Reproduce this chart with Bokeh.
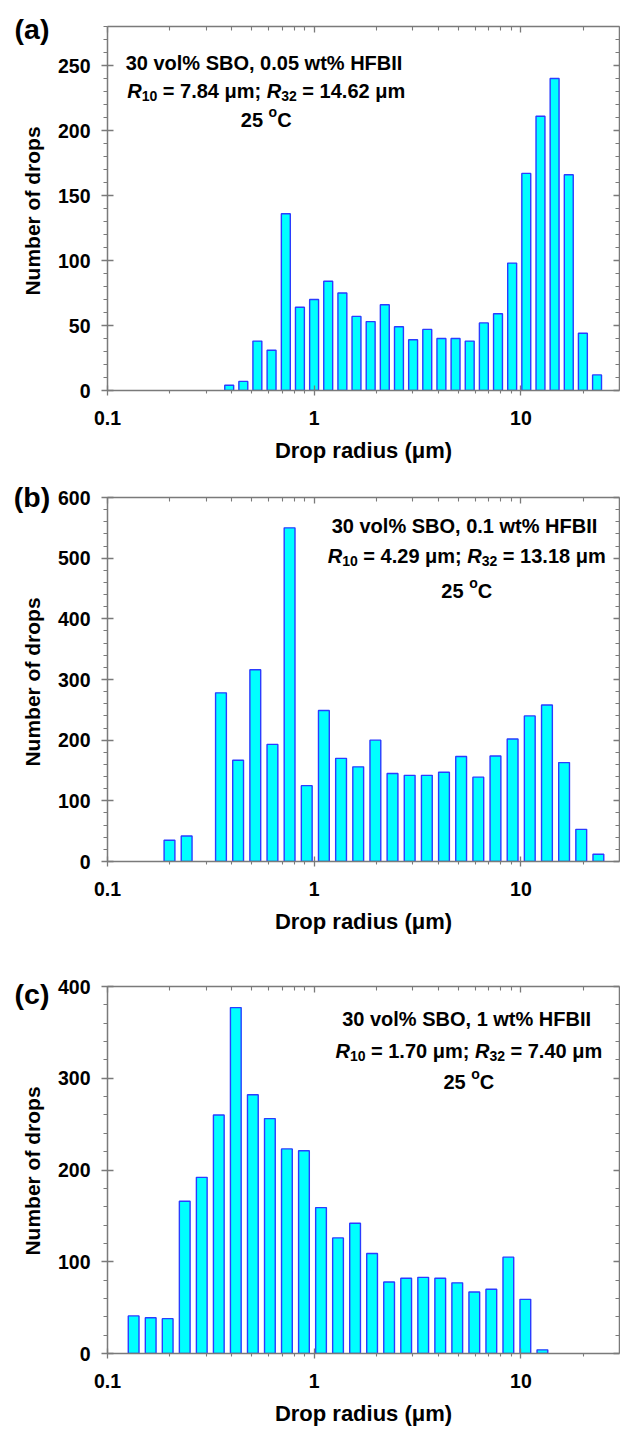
import numpy as np
from bokeh.plotting import figure
from bokeh.models import (ColumnDataSource, LogAxis, LinearAxis, FixedTicker,
                          Range1d, CustomJSTickFormatter, Div)
from bokeh.layouts import column, row
from bokeh.embed import file_html
from bokeh.resources import INLINE
from bokeh.core.properties import value

# ---------------- data ----------------
radius_a = [0.388, 0.454, 0.531, 0.622, 0.729, 0.853, 0.999, 1.169, 1.369, 1.602,
            1.876, 2.196, 2.571, 3.010, 3.524, 4.126, 4.830, 5.655, 6.620, 7.750,
            9.074, 10.62, 12.44, 14.56, 17.05, 19.95, 23.36]
count_a = [4, 7, 38, 31, 136, 64, 70, 84, 75, 57, 53, 66, 49, 39, 47, 40, 40, 38, 52, 59,
           98, 167, 211, 240, 166, 44, 12]

radius_b = [0.1995, 0.2415, 0.3540, 0.4285, 0.5188, 0.6281, 0.7603, 0.9204, 1.114, 1.349,
            1.633, 1.977, 2.393, 2.897, 3.508, 4.246, 5.140, 6.223, 7.534, 9.120,
            11.04, 13.37, 16.18, 19.59, 23.71]
count_b = [35, 42, 278, 167, 316, 193, 550, 125, 249, 170, 156, 200, 145, 142, 142, 147,
           173, 139, 174, 202, 240, 258, 163, 53, 12]

radius_c = [0.1338, 0.1618, 0.1955, 0.2364, 0.2858, 0.3455, 0.4176, 0.5049, 0.6104, 0.7379,
            0.8922, 1.079, 1.304, 1.577, 1.906, 2.304, 2.786, 3.368, 4.072, 4.922,
            5.951, 7.194, 8.697, 10.51, 12.71]
count_c = [41, 39, 38, 166, 192, 260, 377, 282, 256, 223, 221, 159, 126, 142, 109, 78, 82,
           83, 82, 77, 67, 70, 105, 59, 4]

x_ticks = [0.1, 1, 10]
x_minor = [0.2, 0.3, 0.4, 0.5, 0.6, 0.7, 0.8, 0.9, 2, 3, 4, 5, 6, 7, 8, 9, 20]

y_ticks_a = [0, 50, 100, 150, 200, 250]
y_ticks_b = [0, 100, 200, 300, 400, 500, 600]
y_ticks_c = [0, 100, 200, 300, 400]

labels_a = ["30 vol% SBO, 0.05 wt% HFBII", "7.84", "14.62"]
labels_b = ["30 vol% SBO, 0.1 wt% HFBII", "4.29", "13.18"]
labels_c = ["30 vol% SBO, 1 wt% HFBII", "1.70", "7.40"]
temperature = "25"
x_title = "Drop radius (\u03bcm)"
y_title = "Number of drops"

# ---------------- style ----------------
FONT = "Liberation Sans"
AX = "#7a7a7a"
BAR_FILL = "#00FFFF"
BAR_LINE = "#2a3cff"
FRAME_H = 369
SIDE_W = 54          # width of the strip holding panel letter + y title
LEFT_B = 52          # tick-label border of the chart itself

# Arial/Liberation Sans Bold advance widths (per 1000 em)
WID = {' ': 278, '.': 278, '=': 584, ';': 333, 'm': 889, '\u03bc': 611, 'R': 722,
       'C': 722, 'o': 611}
for d in "0123456789":
    WID[d] = 556


def tw(s, fs):
    return sum(WID.get(c, 600) for c in s) / 1000.0 * fs


def minor_list(ticks, step):
    out = []
    v = ticks[0]
    while v <= ticks[-1] + step * 5:
        if v not in ticks:
            out.append(v)
        v += step
    return out


def header_source(lab, xc, ys, fs=20, sub=14):
    rows = []

    def line(pieces, y):
        total = sum(tw(t, f) for t, f, _, _ in pieces)
        off = -total / 2.0
        for t, f, st, dy in pieces:
            lead = len(t) - len(t.lstrip(" "))
            rows.append((xc, y, t.strip(" "), off + tw(" " * lead, f), dy, "%dpx" % f, st))
            off += tw(t, f)

    line([(lab[0], fs, "bold", 0)], ys[0])
    line([("R", fs, "bold italic", 0), ("10", sub, "bold", 5),
          (" = %s \u03bcm; " % lab[1], fs, "bold", 0),
          ("R", fs, "bold italic", 0), ("32", sub, "bold", 5),
          (" = %s \u03bcm" % lab[2], fs, "bold", 0)], ys[1])
    line([(temperature + " ", fs, "bold", 0), ("o", sub, "bold", -8),
          ("C", fs, "bold", 0)], ys[2])
    cols = list(zip(*rows))
    return ColumnDataSource(dict(x=list(cols[0]), y=list(cols[1]), text=list(cols[2]),
                                 xo=list(cols[3]), yo=list(cols[4]), fs=list(cols[5]),
                                 fst=list(cols[6])))


def side_strip(letter, letter_from_top, top, height):
    yc = top + FRAME_H / 2.0
    html = (
        '<div style="position:relative;width:%dpx;height:%dpx;overflow:visible;'
        'font-family:\'%s\';font-weight:bold;color:black;">'
        '<div style="position:absolute;left:0;top:%.1fpx;width:64px;text-align:center;'
        'font-size:28.5px;line-height:28px;white-space:nowrap;">%s</div>'
        '<div style="position:absolute;left:32px;top:%.1fpx;font-size:21px;line-height:21px;'
        'white-space:nowrap;transform:translate(-50%%,-50%%) rotate(-90deg);">%s</div>'
        '</div>'
    ) % (SIDE_W, height, FONT, letter_from_top - 16.5, letter, yc, y_title)
    return Div(text=html, width=SIDE_W, height=height, margin=0)


def panel(letter, letter_from_top, radii, counts, ymax, yticks, ystep, lab, xc, ys,
          top, bottom):
    height = top + FRAME_H + bottom
    p = figure(width=620 - SIDE_W, height=height, x_axis_type="log",
               x_range=Range1d(0.1, 30), y_range=Range1d(0, ymax),
               output_backend="svg", toolbar_location=None,
               min_border_left=LEFT_B, min_border_right=1,
               min_border_top=top, min_border_bottom=bottom, margin=0)
    p.grid.visible = False
    p.outline_line_color = None

    lr = np.log10(np.array(radii, dtype=float))
    half = 0.315 * np.median(np.diff(lr))
    src = ColumnDataSource(dict(left=10 ** (lr - half), right=10 ** (lr + half),
                                top=counts, bottom=[0] * len(counts)))
    p.quad(left="left", right="right", bottom="bottom", top="top", source=src,
           fill_color=BAR_FILL, line_color=BAR_LINE, line_width=1.4)

    yminor = minor_list(yticks, ystep)
    fmt = CustomJSTickFormatter(code="return tick.toString();")

    def style(ax, labels=True):
        ax.axis_line_color = AX
        ax.axis_line_width = 1.5
        ax.major_tick_line_color = AX
        ax.minor_tick_line_color = AX
        ax.major_tick_line_width = 1.3
        ax.minor_tick_line_width = 1.1
        ax.major_label_text_font = FONT
        ax.major_label_text_font_style = "bold"
        ax.major_label_text_color = "black"
        ax.axis_label_text_font = FONT
        ax.axis_label_text_font_style = "bold"
        ax.axis_label_text_font_size = "21px"
        ax.axis_label_text_color = "black"
        if labels:
            ax.major_label_text_font_size = "19.5px"
        else:
            ax.major_label_text_font_size = "1px"
            ax.major_label_text_alpha = 0
            ax.major_label_standoff = 0

    xa = p.xaxis[0]
    xa.ticker = FixedTicker(ticks=x_ticks, minor_ticks=x_minor)
    xa.formatter = fmt
    style(xa)
    xa.major_tick_in = 5
    xa.major_tick_out = 5
    xa.minor_tick_in = 0
    xa.minor_tick_out = 3
    xa.major_label_standoff = 15
    xa.axis_label = x_title
    xa.axis_label_text_font_size = "22px"
    xa.axis_label_standoff = 10

    ya = p.yaxis[0]
    ya.ticker = FixedTicker(ticks=yticks, minor_ticks=yminor)
    style(ya)
    ya.major_tick_in = 6
    ya.major_tick_out = 6
    ya.minor_tick_in = 0
    ya.minor_tick_out = 4
    ya.major_label_standoff = 11

    top_ax = LogAxis(ticker=FixedTicker(ticks=x_ticks, minor_ticks=x_minor), formatter=fmt)
    style(top_ax, labels=False)
    top_ax.major_tick_in = 6
    top_ax.major_tick_out = 0
    top_ax.minor_tick_in = 4
    top_ax.minor_tick_out = 0
    p.add_layout(top_ax, "above")

    right_ax = LinearAxis(ticker=FixedTicker(ticks=yticks, minor_ticks=yminor))
    style(right_ax, labels=False)
    right_ax.major_tick_in = 6
    right_ax.major_tick_out = 0
    right_ax.minor_tick_in = 4
    right_ax.minor_tick_out = 0
    p.add_layout(right_ax, "right")

    hs = header_source(lab, xc, ys)
    p.text(x="x", y="y", text="text", x_offset="xo", y_offset="yo",
           text_font_size="fs", text_font_style="fst", text_font=value(FONT),
           text_color="black", text_align="left", text_baseline="alphabetic", source=hs)

    strip = side_strip(letter, letter_from_top, top, height)
    return row(strip, p, spacing=0)


ra = panel("(a)", 31, radius_a, count_a, 280, y_ticks_a, 10, labels_a, 0.586,
           [252, 230.5, 208], 26, 70)
rb = panel("(b)", 34, radius_b, count_b, 600, y_ticks_b, 20, labels_b, 5.47,
           [553, 504, 446], 32, 70)
rc = panel("(c)", 60, radius_c, count_c, 400, y_ticks_c, 20, labels_c, 5.6,
           [365, 330, 296], 50, 73)

layout = column(ra, rb, rc, spacing=0)
open("out.html", "w").write(file_html(layout, INLINE))
